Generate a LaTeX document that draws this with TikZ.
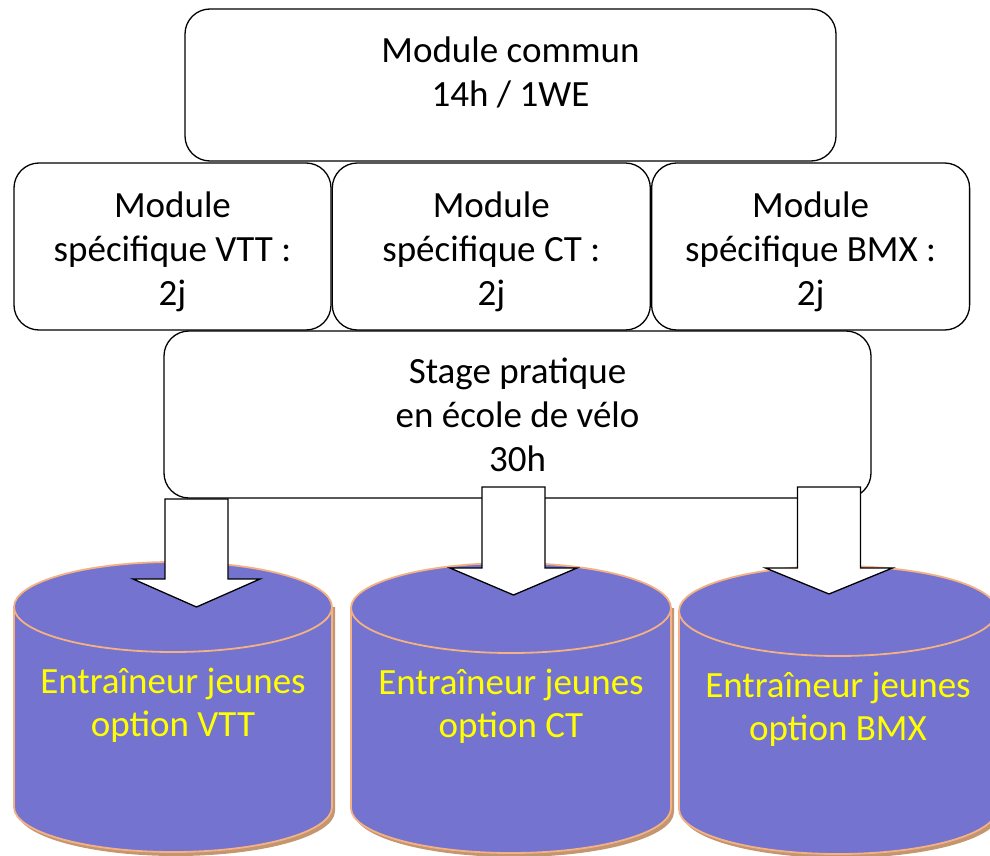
\documentclass[tikz,border=0pt]{standalone}
\usepackage{fontspec}
\setmainfont{Carlito}
\usetikzlibrary{positioning}
\definecolor{violetcyl}{RGB}{116,115,207}
\definecolor{peche}{RGB}{244,177,131}
\definecolor{ombrecyl}{RGB}{196,150,112}
\definecolor{jaune}{RGB}{255,255,0}

\begin{document}
\begin{tikzpicture}[x=1pt,y=-1pt,
    modbox/.style={rectangle,draw,fill=white,rounded corners=25pt,line width=1.3pt,align=center,inner sep=0pt,font=\fontsize{37}{44}\selectfont},
    cyltext/.style={align=center,text=jaune,font=\fontsize{37}{43}\selectfont},
    blockarrow/.style={draw,fill=white,line width=1.3pt}]
    \useasboundingbox (0,0) rectangle (990,856);
    % module commun
    \node[modbox,minimum width=651pt,minimum height=152pt] (commun) at (510.5,85) {Module commun\\14h / 1WE\rule[-26pt]{0pt}{0pt}};
    % modules spécifiques
    \node[modbox,minimum width=317pt,minimum height=167pt] (vtt) at (172.5,246.5) {\rule{0pt}{36pt}Module\\spécifique VTT :\\2j};
    \node[modbox,minimum width=318pt,minimum height=167pt,right=0pt of vtt] (ct) {\rule{0pt}{36pt}Module\\spécifique CT :\\2j};
    \node[modbox,minimum width=318pt,minimum height=167pt,right=0pt of ct] (bmx) {\rule{0pt}{36pt}Module\\spécifique BMX :\\2j};
    % stage pratique
    \node[modbox,minimum width=707pt,minimum height=167pt] (stage) at (517.5,414.5) {Stage pratique\\en école de vélo\\30h};
    % cylindres
    \foreach \nom/\lbl/\xl/\xr/\yt/\yb in {vtt/VTT/14/332/607/807, ct/CT/351/671/608/808, bmx/BMX/679/997/611/809} {
        \pgfmathsetmacro\rx{(\xr-\xl)/2}
        \pgfmathsetmacro\cx{(\xr+\xl)/2}
        \fill[ombrecyl] (\xl+3,\yt) -- (\xl+3,\yb+4) arc[start angle=180,end angle=0,x radius=\rx,y radius=45] -- (\xr+3,\yt) -- cycle;
        \fill[violetcyl] (\xl,\yt) -- (\xl,\yb) arc[start angle=180,end angle=0,x radius=\rx,y radius=45] -- (\xr,\yt) -- cycle;
        \draw[peche,line width=1.8pt] (\xl,\yt) -- (\xl,\yb) arc[start angle=180,end angle=0,x radius=\rx,y radius=45] -- (\xr,\yt);
        \filldraw[fill=violetcyl,draw=peche,line width=1.8pt] (\cx,\yt) ellipse[x radius=\rx,y radius=45];
        \node[cyltext] (opt\nom) at (\cx,\yt+98) {Entraîneur jeunes\\option \lbl};
    }
    % flèches
    \foreach \cx/\yt/\yh/\yp in {196.5/499/579/607, 513.5/487/568/595, 829/487/568/594} {
        \draw[blockarrow] (\cx-31.5,\yt) -- (\cx+31.5,\yt) -- (\cx+31.5,\yh) -- (\cx+63.5,\yh) -- (\cx,\yp) -- (\cx-63.5,\yh) -- (\cx-31.5,\yh) -- cycle;
    }
\end{tikzpicture}
\end{document}
